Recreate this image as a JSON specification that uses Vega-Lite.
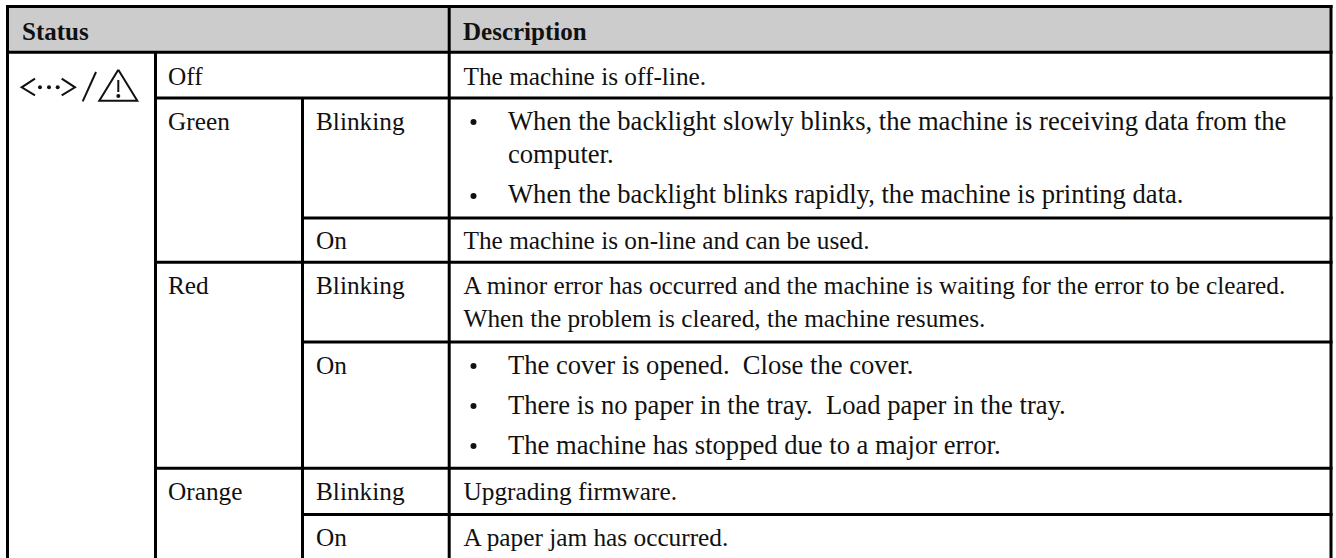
{"$schema":"https://vega.github.io/schema/vega-lite/v6.json","width":1336,"height":558,"autosize":{"type":"fit","contains":"padding"},"padding":0,"background":"white","view":{"stroke":null},
"datasets":{
"fills":[{"x":7,"x2":1331,"y":6,"y2":52}],
"rules":[
{"x":6,"x2":1332.5,"y":6.5,"y2":6.5},{"x":6,"x2":1332.5,"y":52.3,"y2":52.3},{"x":155.5,"x2":1332.5,"y":98,"y2":98},{"x":302.5,"x2":1332.5,"y":218,"y2":218},{"x":155.5,"x2":1332.5,"y":262.3,"y2":262.3},{"x":302.5,"x2":1332.5,"y":342,"y2":342},{"x":155.5,"x2":1332.5,"y":468.3,"y2":468.3},{"x":302.5,"x2":1332.5,"y":514.5,"y2":514.5},
{"x":7.5,"x2":7.5,"y":5,"y2":558},{"x":155.5,"x2":155.5,"y":52,"y2":558},{"x":302.5,"x2":302.5,"y":98,"y2":558},{"x":449.2,"x2":449.2,"y":5,"y2":558},{"x":1331,"x2":1331,"y":5,"y2":558}],
"boldtexts":[{"x":22,"y":40,"t":"Status"},{"x":463,"y":40,"t":"Description"}],
"texts":[
{"x":168,"y":85,"t":"Off"},{"x":463.5,"y":85,"t":"The machine is off-line."},
{"x":168,"y":130,"t":"Green"},{"x":316,"y":130,"t":"Blinking"},
{"x":316,"y":249,"t":"On"},{"x":463.5,"y":249,"t":"The machine is on-line and can be used."},
{"x":168,"y":294,"t":"Red"},{"x":316,"y":294,"t":"Blinking"},
{"x":463.5,"y":294,"t":"A minor error has occurred and the machine is waiting for the error to be cleared."},
{"x":463.5,"y":327,"t":"When the problem is cleared, the machine resumes."},
{"x":316,"y":374,"t":"On"},
{"x":168,"y":500,"t":"Orange"},{"x":316,"y":500,"t":"Blinking"},{"x":463.5,"y":500,"t":"Upgrading firmware."},
{"x":316,"y":546,"t":"On"},{"x":463.5,"y":546,"t":"A paper jam has occurred."}],
"bullettexts":[
{"x":508,"y":130,"t":"When the backlight slowly blinks, the machine is receiving data from the"},
{"x":508,"y":163,"t":"computer."},
{"x":508,"y":203,"t":"When the backlight blinks rapidly, the machine is printing data."},
{"x":508,"y":374,"t":"The cover is opened.\u00a0 Close the cover."},
{"x":508,"y":413.5,"t":"There is no paper in the tray.\u00a0 Load paper in the tray."},
{"x":508,"y":454,"t":"The machine has stopped due to a major error."}],
"bullets":[{"x":473.5,"y":122},{"x":473.5,"y":196},{"x":473.5,"y":366},{"x":473.5,"y":406},{"x":473.5,"y":446}],
"icon":[
{"g":"a","o":0,"x":35,"y":78.7},{"g":"a","o":1,"x":21.7,"y":87.3},{"g":"a","o":2,"x":35,"y":95.3},
{"g":"b","o":0,"x":61.7,"y":78.7},{"g":"b","o":1,"x":75,"y":87.3},{"g":"b","o":2,"x":61.7,"y":95.3},
{"g":"c","o":0,"x":82.7,"y":101.3},{"g":"c","o":1,"x":96,"y":72},
{"g":"d","o":0,"x":118.3,"y":69.7},{"g":"d","o":1,"x":99.3,"y":100.7},{"g":"d","o":2,"x":137.3,"y":100.7},{"g":"d","o":3,"x":118.3,"y":69.7},
{"g":"e","o":0,"x":118.3,"y":80},{"g":"e","o":1,"x":118.3,"y":92}],
"icondots":[{"x":40,"y":87.3},{"x":49,"y":87.3},{"x":57.7,"y":87.3},{"x":118.3,"y":96}]
},
"layer":[
{"data":{"name":"fills"},"mark":{"type":"rect","color":"#cccccc"},"encoding":{"x":{"field":"x","type":"quantitative","scale":{"domain":[0,1336],"range":[0,1336],"nice":false,"zero":false},"axis":null},"x2":{"field":"x2"},"y":{"field":"y","type":"quantitative","scale":{"domain":[0,558],"range":[0,558],"nice":false,"zero":false},"axis":null},"y2":{"field":"y2"}}},
{"data":{"name":"rules"},"mark":{"type":"rule","color":"black","strokeWidth":3},"encoding":{"x":{"field":"x","type":"quantitative"},"x2":{"field":"x2"},"y":{"field":"y","type":"quantitative"},"y2":{"field":"y2"}}},
{"data":{"name":"texts"},"mark":{"type":"text","font":"Liberation Serif","fontSize":25.3,"align":"left","baseline":"alphabetic","color":"#111111"},"encoding":{"x":{"field":"x","type":"quantitative"},"y":{"field":"y","type":"quantitative"},"text":{"field":"t"}}},
{"data":{"name":"bullettexts"},"mark":{"type":"text","font":"Liberation Serif","fontSize":26.6,"align":"left","baseline":"alphabetic","color":"#111111"},"encoding":{"x":{"field":"x","type":"quantitative"},"y":{"field":"y","type":"quantitative"},"text":{"field":"t"}}},
{"data":{"name":"boldtexts"},"mark":{"type":"text","font":"Liberation Serif","fontSize":25,"fontWeight":"bold","align":"left","baseline":"alphabetic","color":"#111111"},"encoding":{"x":{"field":"x","type":"quantitative"},"y":{"field":"y","type":"quantitative"},"text":{"field":"t"}}},
{"data":{"name":"bullets"},"mark":{"type":"point","filled":true,"size":36,"color":"#111111","opacity":1},"encoding":{"x":{"field":"x","type":"quantitative"},"y":{"field":"y","type":"quantitative"}}},
{"data":{"name":"icon"},"mark":{"type":"line","color":"#111111","strokeWidth":2},"encoding":{"x":{"field":"x","type":"quantitative"},"y":{"field":"y","type":"quantitative"},"detail":{"field":"g"},"order":{"field":"o"}}},
{"data":{"name":"icondots"},"mark":{"type":"point","filled":true,"size":16,"color":"#111111","opacity":1},"encoding":{"x":{"field":"x","type":"quantitative"},"y":{"field":"y","type":"quantitative"}}}
]}
